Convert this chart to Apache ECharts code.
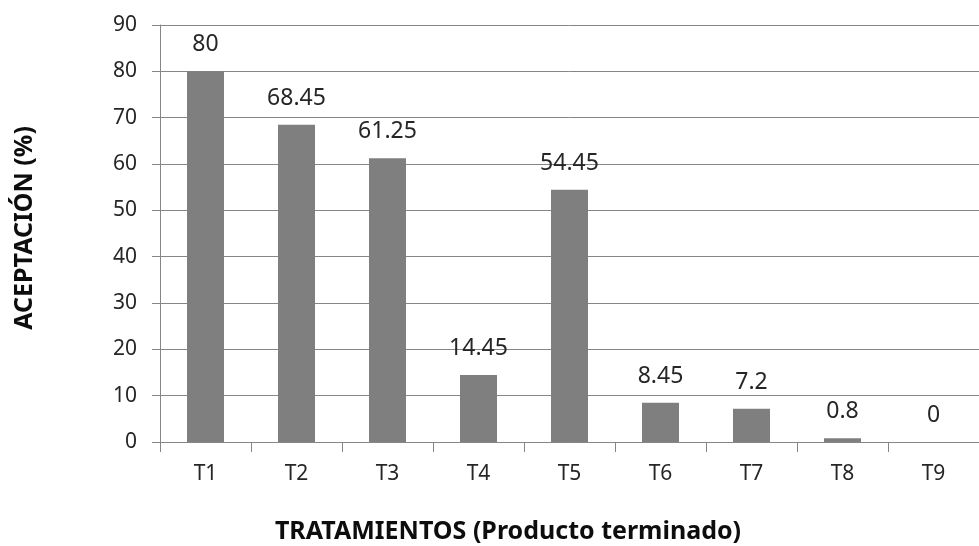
<!DOCTYPE html>
<html>
<head>
<meta charset="utf-8">
<script src="https://cdn.jsdelivr.net/npm/echarts@6/dist/echarts.min.js"></script>
<style>
html,body{margin:0;padding:0;background:#fff;}
#chart{width:979px;height:546px;}
</style>
</head>
<body>
<div id="chart"></div>
<script>
// Acceptance per treatment (finished product)
const categories = ['T1','T2','T3','T4','T5','T6','T7','T8','T9'];
const acceptance = [80, 68.45, 61.25, 14.45, 54.45, 8.45, 7.2, 0.8, 0];
const yTicks = [0, 10, 20, 30, 40, 50, 60, 70, 80, 90];

const font = 'Noto Sans';
const lineGrey = '#868686';
const chart = echarts.init(document.getElementById('chart'));
chart.setOption({
  animation: false,
  grid: { left: 160, right: 0, top: 25, bottom: 104 },
  xAxis: {
    type: 'category',
    data: categories,
    axisLine: { lineStyle: { color: lineGrey, width: 1 } },
    axisTick: { show: true, length: 10, lineStyle: { color: lineGrey } },
    axisLabel: { color: '#262626', fontFamily: font, fontSize: 21, margin: 22 }
  },
  yAxis: {
    type: 'value',
    min: yTicks[0],
    max: yTicks[yTicks.length - 1],
    interval: 10,
    axisLine: { show: true, lineStyle: { color: lineGrey } },
    axisTick: { show: true, length: 8, lineStyle: { color: lineGrey } },
    splitLine: { lineStyle: { color: lineGrey, width: 1 } },
    axisLabel: { color: '#262626', fontFamily: font, fontSize: 21, margin: 23 }
  },
  series: [{
    type: 'bar',
    data: acceptance,
    barWidth: 37,
    itemStyle: { color: '#7f7f7f' },
    label: {
      show: true,
      position: 'top',
      distance: 15,
      color: '#262626',
      fontFamily: font,
      fontSize: 23
    }
  }],
  graphic: [
    {
      type: 'text',
      x: 508,
      y: 532,
      style: {
        text: 'TRATAMIENTOS (Producto terminado)',
        fill: '#0d0d0d',
        font: 'bold 25px "Noto Sans"',
        textAlign: 'center',
        textVerticalAlign: 'middle'
      }
    },
    {
      type: 'text',
      x: 25,
      y: 228,
      rotation: Math.PI / 2,
      style: {
        text: 'ACEPTACIÓN (%)',
        fill: '#0d0d0d',
        font: 'bold 25px "Noto Sans"',
        textAlign: 'center',
        textVerticalAlign: 'middle'
      }
    }
  ]
});
</script>
</body>
</html>
